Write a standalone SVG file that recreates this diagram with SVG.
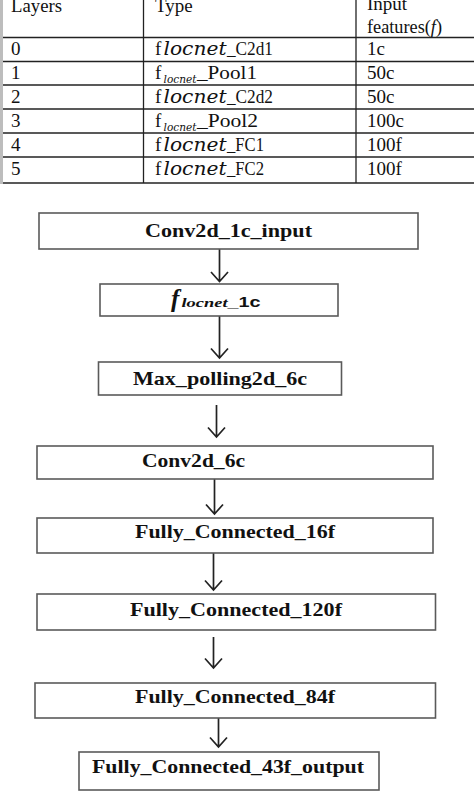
<svg xmlns="http://www.w3.org/2000/svg" width="474" height="793" viewBox="0 0 474 793">
<style>
.t{font-family:"Liberation Serif","Times New Roman",serif;font-size:19px;fill:#111}
.m{font-family:"DejaVu Serif","Liberation Serif",serif;font-style:italic;fill:#111}
.tl{stroke:#222;stroke-width:1.3;fill:none}
.box{fill:#fff;stroke:#5a5a5a;stroke-width:1.6}
.bt{font-family:"Liberation Serif","Times New Roman",serif;font-weight:bold;font-size:19px;fill:#111}
.arr{stroke:#222;stroke-width:1.7;fill:none}
</style>
<rect width="474" height="793" fill="#fff"/>
<g id="table">
<rect x="0" y="0" width="3" height="184" fill="#bdbdbd"/>
<line class="tl" x1="3" y1="37.5" x2="474" y2="37.5"/>
<line class="tl" x1="3" y1="61.5" x2="474" y2="61.5"/>
<line class="tl" x1="3" y1="85" x2="474" y2="85"/>
<line class="tl" x1="3" y1="109" x2="474" y2="109"/>
<line class="tl" x1="3" y1="133" x2="474" y2="133"/>
<line class="tl" x1="3" y1="157" x2="474" y2="157"/>
<line class="tl" x1="3" y1="183" x2="474" y2="183"/>
<line class="tl" x1="143.5" y1="0" x2="143.5" y2="183"/>
<line class="tl" x1="356" y1="0" x2="356" y2="183"/>
<text class="t" x="11" y="12" textLength="51" lengthAdjust="spacingAndGlyphs">Layers</text>
<text class="t" x="155" y="12">Type</text>
<text class="t" x="367" y="9.5">Input</text>
<text class="t" x="367" y="33" textLength="75" lengthAdjust="spacingAndGlyphs">features(<tspan font-style="italic">f</tspan>)</text>
<text class="t" x="11" y="55">0</text>
<text class="t" x="11" y="79">1</text>
<text class="t" x="11" y="103">2</text>
<text class="t" x="11" y="127">3</text>
<text class="t" x="11" y="151">4</text>
<text class="t" x="11" y="175">5</text>
<text class="t" x="155" y="55">f<tspan class="m" x="163.5" font-size="18" textLength="63" lengthAdjust="spacingAndGlyphs">locnet</tspan><tspan x="227" textLength="46" lengthAdjust="spacingAndGlyphs">_C2d1</tspan></text>
<text class="t" x="155" y="79">f<tspan class="m" x="163.5" y="83" font-size="11.5" textLength="33" lengthAdjust="spacingAndGlyphs">locnet</tspan><tspan x="197" y="79" textLength="60" lengthAdjust="spacingAndGlyphs">_Pool1</tspan></text>
<text class="t" x="155" y="103">f<tspan class="m" x="163.5" font-size="18" textLength="63" lengthAdjust="spacingAndGlyphs">locnet</tspan><tspan x="227" textLength="46" lengthAdjust="spacingAndGlyphs">_C2d2</tspan></text>
<text class="t" x="155" y="127">f<tspan class="m" x="163.5" y="131" font-size="11.5" textLength="33" lengthAdjust="spacingAndGlyphs">locnet</tspan><tspan x="197" y="127" textLength="61" lengthAdjust="spacingAndGlyphs">_Pool2</tspan></text>
<text class="t" x="155" y="151">f<tspan class="m" x="163.5" font-size="18" textLength="63" lengthAdjust="spacingAndGlyphs">locnet</tspan><tspan x="227" textLength="37" lengthAdjust="spacingAndGlyphs">_FC1</tspan></text>
<text class="t" x="155" y="175">f<tspan class="m" x="163.5" font-size="18" textLength="63" lengthAdjust="spacingAndGlyphs">locnet</tspan><tspan x="227" textLength="37" lengthAdjust="spacingAndGlyphs">_FC2</tspan></text>
<text class="t" x="367" y="55">1c</text>
<text class="t" x="367" y="79">50c</text>
<text class="t" x="367" y="103">50c</text>
<text class="t" x="367" y="127">100c</text>
<text class="t" x="367" y="151">100f</text>
<text class="t" x="367" y="175">100f</text>
</g>
<g id="connectors">
<path class="arr" d="M219.5 249V281.5M211 272L219.5 281.5L228 272"/>
<path class="arr" d="M219.5 316V358M211 348.5L219.5 358L228 348.5"/>
<path class="arr" d="M216.5 405V437M208 427.5L216.5 437L225 427.5"/>
<path class="arr" d="M214.5 479V514M206 504.5L214.5 514L223 504.5"/>
<path class="arr" d="M213.5 553V590M205 580.5L213.5 590L222 580.5"/>
<path class="arr" d="M213.5 637V668M205 658.5L213.5 668L222 658.5"/>
<path class="arr" d="M218.5 718V747M210 737.5L218.5 747L227 737.5"/>
</g>
<g id="n1"><rect class="box" x="39" y="213" width="379" height="36"/><text class="bt" x="145" y="237" textLength="167" lengthAdjust="spacingAndGlyphs">Conv2d_1c_input</text></g>
<g id="n2"><rect class="box" x="100" y="284" width="238" height="32"/><text x="171" y="307" fill="#111"><tspan font-family="Liberation Serif,serif" font-style="italic" font-weight="bold" font-size="25">f</tspan><tspan x="181.5" font-family="Liberation Serif,serif" font-style="italic" font-weight="bold" font-size="13" textLength="46" lengthAdjust="spacingAndGlyphs">locnet</tspan><tspan x="227.5" font-family="Liberation Sans,sans-serif" font-weight="bold" font-size="15" textLength="33" lengthAdjust="spacingAndGlyphs">_1c</tspan></text></g>
<g id="n3"><rect class="box" x="98.5" y="362" width="243" height="33"/><text class="bt" x="133" y="385" textLength="174" lengthAdjust="spacingAndGlyphs">Max_polling2d_6c</text></g>
<g id="n4"><rect class="box" x="37" y="446" width="396" height="33"/><text class="bt" x="142" y="467" textLength="103" lengthAdjust="spacingAndGlyphs">Conv2d_6c</text></g>
<g id="n5"><rect class="box" x="37" y="518" width="396" height="35"/><text class="bt" x="135" y="538" textLength="200" lengthAdjust="spacingAndGlyphs">Fully_Connected_16f</text></g>
<g id="n6"><rect class="box" x="37" y="594" width="398.5" height="36"/><text class="bt" x="130" y="615.5" textLength="212" lengthAdjust="spacingAndGlyphs">Fully_Connected_120f</text></g>
<g id="n7"><rect class="box" x="35" y="683" width="400.5" height="35"/><text class="bt" x="135" y="703" textLength="200" lengthAdjust="spacingAndGlyphs">Fully_Connected_84f</text></g>
<g id="n8"><rect class="box" x="79" y="752" width="300" height="38"/><text class="bt" x="92" y="773" textLength="272" lengthAdjust="spacingAndGlyphs">Fully_Connected_43f_output</text></g>
</svg>
